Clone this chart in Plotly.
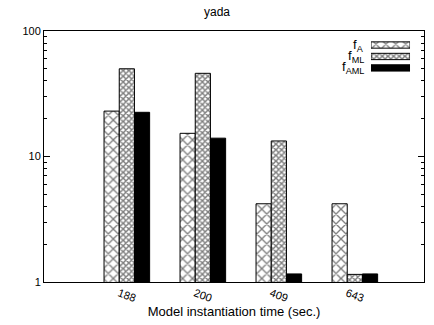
import plotly.graph_objects as go

categories = ["188", "200", "409", "643"]
series_names = ["f<sub>A</sub>", "f<sub>ML</sub>", "f<sub>AML</sub>"]
f_A = [23, 15.3, 4.2, 4.2]
f_ML = [50, 46, 13.3, 1.15]
f_AML = [22.5, 14, 1.16, 1.16]
yticks = [1, 10, 100]

xpos = list(range(len(categories)))

patterns = [
    dict(shape="x", size=7, solidity=0.35, fgcolor="black", bgcolor="white"),
    dict(shape="x", size=4, solidity=0.6, fgcolor="black", bgcolor="white"),
    dict(shape="", fgcolor="black", bgcolor="black"),
]
colors = ["white", "white", "black"]

fig = go.Figure()
for name, vals, pat, col in zip(series_names, [f_A, f_ML, f_AML], patterns, colors):
    fig.add_trace(go.Bar(
        x=xpos, y=vals, name=name, marker=dict(color=col, pattern=pat,
        line=dict(color="black", width=1)), showlegend=False))

# legend swatches on auxiliary axes
leg_top, leg_bot = 0.967, 0.83
for i, (pat, col) in enumerate(zip(patterns, colors)):
    fig.add_trace(go.Bar(
        x=[1], y=[i], base=[0], orientation="h", width=0.55,
        marker=dict(color=col, pattern=pat, line=dict(color="black", width=1)),
        xaxis="x2", yaxis="y2", showlegend=False, hoverinfo="skip"))

fig.update_layout(
    width=434, height=325,
    margin=dict(l=44, r=10, t=31, b=43),
    paper_bgcolor="white", plot_bgcolor="white",
    font=dict(family="Liberation Sans, Arial, sans-serif", size=11, color="black"),
    title=dict(text="yada", x=0.5, xanchor="center", y=0.963, yanchor="middle",
               font=dict(size=12)),
    barmode="group", bargap=0.4, bargroupgap=0,
    xaxis=dict(range=[-1.09, 3.91], tickvals=xpos, ticktext=categories,
               tickangle=20, ticks="", showgrid=False, zeroline=False,
               ticklabelshift=-8,
               showline=True, linecolor="black", linewidth=1, mirror=True,
               title=dict(text="Model instantiation time (sec.)", standoff=3),
               tickfont=dict(size=11)),
    yaxis=dict(type="log", range=[0, 2], tickvals=yticks,
               ticktext=[str(v) for v in yticks],
               ticks="inside", ticklen=6, tickcolor="black",
               minor=dict(ticks="inside", ticklen=3, tickcolor="black",
                          tickvals=[2, 3, 4, 5, 6, 7, 8, 9, 20, 30, 40, 50, 60, 70, 80, 90]),
               showgrid=False, zeroline=False, showline=True, linecolor="black",
               linewidth=1, mirror="allticks", tickfont=dict(size=11)),
    xaxis2=dict(domain=[0.8605, 0.9632], range=[0, 1], visible=False, anchor="y2"),
    yaxis2=dict(domain=[leg_bot, leg_top], range=[2.5, -0.5], visible=False, anchor="x2"),
)

row_h = (leg_top - leg_bot) / 3
for i, name in enumerate(series_names):
    fig.add_annotation(text=name, xref="paper", yref="paper", x=0.847,
                       y=leg_top - (i + 0.5) * row_h,
                       xanchor="right", yanchor="middle", showarrow=False,
                       font=dict(size=13))

fig.write_html("out.html")
